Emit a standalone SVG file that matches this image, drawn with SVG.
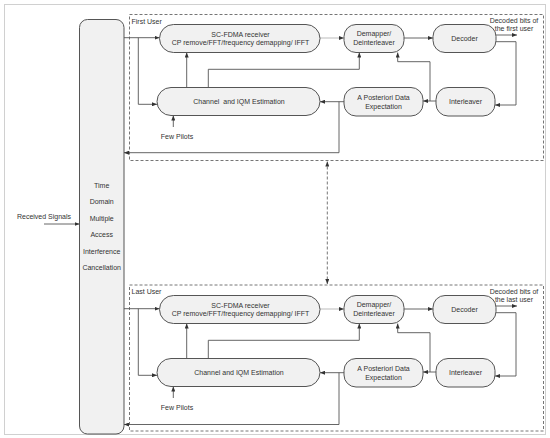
<svg xmlns="http://www.w3.org/2000/svg" width="550" height="438" viewBox="0 0 550 438">
<style>
text{font-family:"Liberation Sans",Arial,sans-serif;font-size:7px;fill:#333;text-anchor:middle}
.l{text-anchor:start}
.box{fill:#f1f1f1;stroke:#555;stroke-width:1}
.dash{fill:none;stroke:#666;stroke-width:0.9;stroke-dasharray:3,2}
.c{fill:none;stroke:#555;stroke-width:0.9;marker-end:url(#ah)}
.cl{fill:none;stroke:#aaa;stroke-width:0.8;marker-end:url(#ah)}
</style>
<defs>
<marker id="ah" markerUnits="userSpaceOnUse" markerWidth="5" markerHeight="4" refX="5" refY="2" orient="auto-start-reverse">
<path d="M0,0 L5,2 L0,4 z" fill="#333"/>
</marker>
</defs>
<rect width="550" height="438" fill="#fff"/>
<rect x="4.5" y="4.5" width="541" height="430" fill="none" stroke="#d0d0d0" stroke-width="1"/>

<g id="connectors-main">
<path class="c" d="M44,224 H79.5"/>
<path class="dash" d="M327.3,161.5 V284" marker-start="url(#ah)" marker-end="url(#ah)"/>
</g>

<g id="tdmaic">
<rect class="box" x="79.5" y="19.5" width="44.5" height="414.5" rx="8"/>
<text x="101.7" y="187.5">Time</text>
<text x="101.7" y="204">Domain</text>
<text x="101.7" y="220.5">Multiple</text>
<text x="101.7" y="237">Access</text>
<text x="101.7" y="253.5">Interference</text>
<text x="101.7" y="270">Cancellation</text>
</g>
<g id="received-label"><text x="44" y="219">Received Signals</text></g>

<g id="first-user">
<g id="fu-frame"><rect class="dash" x="129.5" y="14.5" width="414" height="146"/><text class="l" x="131.5" y="23.5">First User</text></g>
<g id="fu-connectors">
<path class="c" d="M124,37.7 H159.5"/>
<path class="c" d="M138.3,37.7 V104.3 H157"/>
<path class="c" d="M186.7,87.5 V52.5"/>
<path class="c" d="M208.3,87.5 V69.3 H359.3 V52.5"/>
<path class="cl" d="M320,38 H344"/>
<path class="c" d="M404,38 H433"/>
<path class="c" d="M496,35 H517"/>
<path class="c" d="M496,41.7 H516 V105 H495"/>
<path class="c" d="M436,101 H423"/>
<path class="c" d="M430,101 V61.7 H397.7 V52.5"/>
<path class="c" d="M344,101.7 H320"/>
<path class="c" d="M339,101.7 V152.7 H124"/>
<path class="c" d="M173.3,127 V115.5"/>
</g>
<g id="fu-scfdma"><rect class="box" x="159.5" y="24.5" width="160.5" height="28" rx="14"/><text x="240.5" y="36.5">SC-FDMA receiver</text><text x="240.5" y="45">CP remove/FFT/frequency demapping/ IFFT</text></g>
<g id="fu-channel"><rect class="box" x="157" y="87.5" width="163" height="28" rx="14"/><text x="239" y="104" xml:space="preserve">Channel  and IQM Estimation</text></g>
<g id="fu-demapper"><rect class="box" x="344" y="24.5" width="60" height="28" rx="12"/><text x="374" y="35.8">Demapper/</text><text x="374" y="45.2">Deinterleaver</text></g>
<g id="fu-decoder"><rect class="box" x="433" y="24.5" width="63" height="28" rx="12"/><text x="464.5" y="40.5">Decoder</text></g>
<g id="fu-apde"><rect class="box" x="344" y="87.5" width="79" height="28.5" rx="12"/><text x="383.5" y="99.8">A Posteriori Data</text><text x="383.5" y="108.5">Expectation</text></g>
<g id="fu-interleaver"><rect class="box" x="436" y="87.5" width="59" height="28.5" rx="12"/><text x="465.5" y="104">Interleaver</text></g>
<g id="fu-pilots"><text x="177" y="139">Few Pilots</text></g>
<g id="fu-output"><text x="514" y="22.5">Decoded bits of</text><text x="514" y="30.8">the first user</text></g>
</g>

<g id="last-user" transform="translate(0,271)">
<g id="lu-frame"><rect class="dash" x="129.5" y="14" width="414" height="146"/><text class="l" x="131.5" y="22.5">Last User</text></g>
<g id="lu-connectors">
<path class="c" d="M124,37.7 H159.5"/>
<path class="c" d="M138.3,37.7 V104.3 H157"/>
<path class="c" d="M186.7,87.5 V52.5"/>
<path class="c" d="M208.3,87.5 V69.3 H359.3 V52.5"/>
<path class="cl" d="M320,38 H344"/>
<path class="c" d="M404,38 H433"/>
<path class="c" d="M496,35 H517"/>
<path class="c" d="M496,41.7 H516 V105 H495"/>
<path class="c" d="M436,101 H423"/>
<path class="c" d="M430,101 V61.7 H397.7 V52.5"/>
<path class="c" d="M344,101.7 H320"/>
<path class="c" d="M339,101.7 V153.5 H124"/>
<path class="c" d="M173.3,127 V115.5"/>
</g>
<g id="lu-scfdma"><rect class="box" x="159.5" y="24.5" width="160.5" height="28" rx="14"/><text x="240.5" y="36.5">SC-FDMA receiver</text><text x="240.5" y="45">CP remove/FFT/frequency demapping/ IFFT</text></g>
<g id="lu-channel"><rect class="box" x="157" y="87.5" width="163" height="28" rx="14"/><text x="239" y="104">Channel and IQM Estimation</text></g>
<g id="lu-demapper"><rect class="box" x="344" y="24.5" width="60" height="28" rx="12"/><text x="374" y="35.8">Demapper/</text><text x="374" y="45.2">Deinterleaver</text></g>
<g id="lu-decoder"><rect class="box" x="433" y="24.5" width="63" height="28" rx="12"/><text x="464.5" y="40.5">Decoder</text></g>
<g id="lu-apde"><rect class="box" x="344" y="87.5" width="79" height="28.5" rx="12"/><text x="383.5" y="99.8">A Posteriori Data</text><text x="383.5" y="108.5">Expectation</text></g>
<g id="lu-interleaver"><rect class="box" x="436" y="87.5" width="59" height="28.5" rx="12"/><text x="465.5" y="104">Interleaver</text></g>
<g id="lu-pilots"><text x="177" y="139">Few Pilots</text></g>
<g id="lu-output"><text x="514" y="22.5">Decoded bits of</text><text x="514" y="30.8">the last user</text></g>
</g>
</svg>
